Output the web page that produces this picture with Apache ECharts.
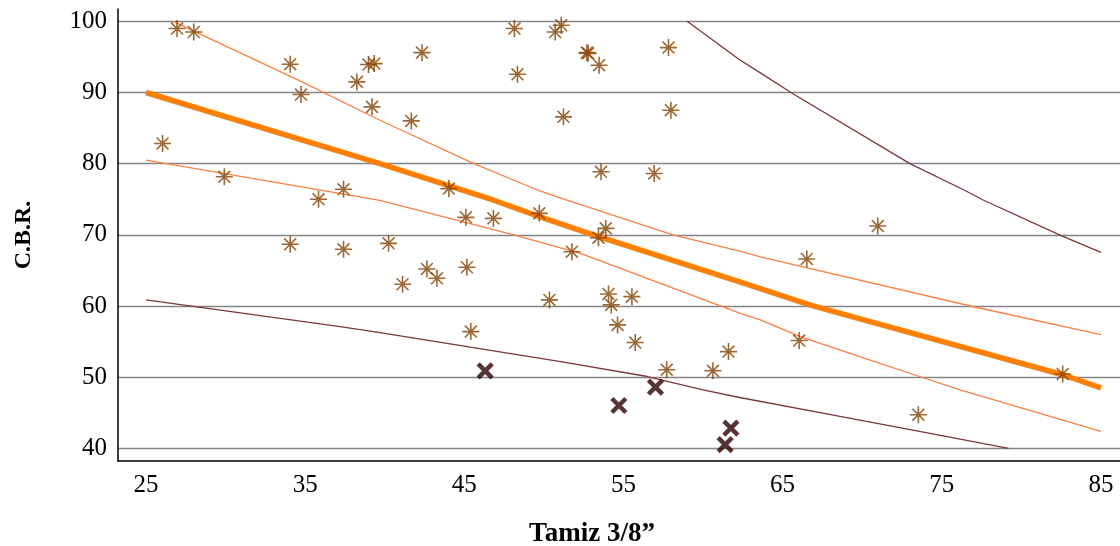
<!DOCTYPE html>
<html>
<head>
<meta charset="utf-8">
<script src="https://cdn.jsdelivr.net/npm/echarts@6/dist/echarts.min.js"></script>
<style>
  html, body { margin: 0; padding: 0; background: #fff; }
  #chart { width: 1120px; height: 546px; }
</style>
</head>
<body>
<div id="chart"></div>
<script>
// Axis tick labels
const xTicks = [25, 35, 45, 55, 65, 75, 85];
const yTicks = [40, 50, 60, 70, 80, 90, 100];

// Samples: [Tamiz 3/8", C.B.R.]
const samples = [
  [26.04, 82.84], [26.95, 98.98], [28.0, 98.5], [29.92, 78.16],
  [34.06, 93.97], [34.74, 89.71], [34.06, 68.67], [35.84, 75.0],
  [37.41, 76.4], [37.41, 67.97], [38.25, 91.49], [38.98, 93.93],
  [39.34, 94.06], [39.2, 87.98], [40.24, 68.81], [41.12, 63.06],
  [41.67, 86.01], [42.34, 95.6], [42.65, 65.21], [43.28, 63.9],
  [44.03, 76.5], [45.1, 72.46], [45.16, 65.45], [45.41, 56.41],
  [46.83, 72.32], [48.15, 98.98], [48.34, 92.56], [49.71, 73.02],
  [50.35, 60.86], [50.71, 98.5], [51.09, 99.44], [51.23, 86.58],
  [51.76, 67.63], [52.7, 95.6], [52.78, 95.5], [53.47, 93.83],
  [53.43, 69.6], [53.59, 78.86], [53.89, 70.91], [54.06, 61.7],
  [54.23, 60.16], [54.63, 57.35], [55.53, 61.32], [55.74, 54.87],
  [56.93, 78.63], [57.72, 51.04], [57.83, 96.31], [57.98, 87.51],
  [60.62, 50.9], [61.6, 53.6], [66.04, 55.15], [66.52, 66.61],
  [70.98, 71.24], [73.53, 44.73], [82.6, 50.45]
];

// Samples falling below the lower prediction band
const outliers = [
  [46.31, 50.9], [54.71, 46.03], [57.01, 48.61], [61.39, 40.52], [61.75, 42.86]
];

// Fitted line
const fitLine = [
  [25.0, 90.0], [39.7, 80.0], [46.8, 74.9], [49.8, 72.5], [53.1, 70.0],
  [62.3, 63.4], [66.8, 60.1], [82.6, 50.35], [85.0, 48.5]
];

// Confidence band of the fit
const confUpper = [
  [26.7, 100.0], [34.7, 91.6], [39.7, 86.1], [45.6, 80.0], [49.6, 76.3],
  [51.4, 74.9], [58.1, 70.0], [62.3, 67.7], [63.6, 66.9], [77.0, 59.9], [85.0, 56.0]
];
const confLower = [
  [25.0, 80.5], [39.7, 74.85], [48.1, 70.0], [52.3, 67.4], [62.3, 59.0],
  [63.6, 58.05], [66.1, 55.7], [70.5, 52.4], [73.6, 50.1], [76.2, 48.2], [85.0, 42.4]
];

// Prediction band
const predUpper = [
  [59.0, 100.0], [62.3, 94.6], [63.6, 92.75], [65.6, 89.9], [73.0, 80.0],
  [76.4, 76.3], [77.6, 74.9], [82.4, 70.0], [85.0, 67.55]
];
const predLower = [
  [25.0, 60.86], [37.2, 57.1], [39.7, 56.27], [51.05, 52.2], [56.5, 50.1],
  [60.0, 48.23], [62.3, 47.15], [68.6, 44.5], [73.6, 42.4], [79.2, 40.0]
];

const serif = "'Liberation Serif', 'Times New Roman', serif";
const STAR = 'path://M0,5 L10,5 M5,0 L5,10 M1.5,1.5 L8.5,8.5 M8.5,1.5 L1.5,8.5';
const CROSS = 'path://M0,0 L10,10 M10,0 L0,10';

function lineSeries(data, color, width) {
  return {
    type: 'line', data: data, symbol: 'none', smooth: false,
    lineStyle: { color: color, width: width, join: 'round' }, silent: true, z: 2
  };
}

const chart = echarts.init(document.getElementById('chart'), null, { renderer: 'canvas' });
chart.setOption({
  animation: false,
  backgroundColor: '#ffffff',
  grid: { left: 118, right: 0, top: 9, bottom: 85, containLabel: false, outerBoundsMode: 'none' },
  xAxis: {
    type: 'value', min: 23.24, max: 86.2,
    name: 'Tamiz 3/8\u201D', nameLocation: 'middle', nameGap: 60,
    nameTextStyle: { fontFamily: serif, fontWeight: 'bold', fontSize: 27, color: '#000', padding: [0, 54, 0, 0] },
    axisLine: { show: true, onZero: false, lineStyle: { color: '#000', width: 1.5 } },
    axisTick: { show: false, customValues: xTicks },
    axisLabel: { customValues: xTicks, fontFamily: serif, fontSize: 25, color: '#000', margin: 12 },
    splitLine: { show: false }
  },
  yAxis: {
    type: 'value', min: 38.23, max: 101.73,
    name: 'C.B.R.', nameLocation: 'middle', nameGap: 82, nameRotate: 90,
    nameTextStyle: { fontFamily: serif, fontWeight: 'bold', fontSize: 24, color: '#000' },
    axisLine: { show: true, onZero: false, lineStyle: { color: '#000', width: 1.5 } },
    axisTick: { show: false, customValues: yTicks },
    axisLabel: { customValues: yTicks, fontFamily: serif, fontSize: 25, color: '#000', margin: 11 },
    splitLine: { show: true, lineStyle: { color: '#858585', width: 1.4 } }
  },
  series: [
    lineSeries(predUpper, '#7a3838', 1.3),
    lineSeries(predLower, '#7a3838', 1.3),
    lineSeries(confUpper, '#ff7f3f', 1.3),
    lineSeries(confLower, '#ff7f3f', 1.3),
    lineSeries(fitLine, '#ff8000', 5.5),
    {
      type: 'scatter', data: samples, symbol: STAR, symbolSize: 17, z: 3,
      itemStyle: { color: 'none', borderColor: '#844200', borderWidth: 1.6 }
    },
    {
      type: 'scatter', data: outliers, symbol: CROSS, symbolSize: 14, z: 4,
      itemStyle: { color: 'none', borderColor: '#300000', borderWidth: 4.5 }
    }
  ]
});
</script>
</body>
</html>
